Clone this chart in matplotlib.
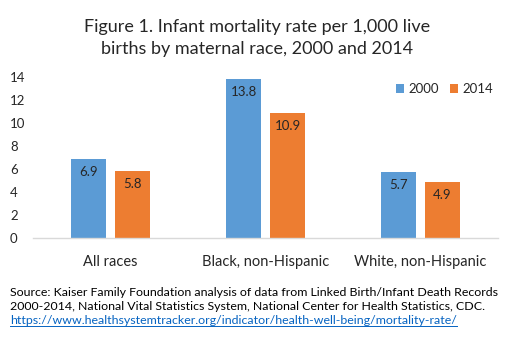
import matplotlib
matplotlib.use("Agg")
import matplotlib.pyplot as plt
import numpy as np

categories = ["All races", "Black, non-Hispanic", "White, non-Hispanic"]
years = ["2000", "2014"]
rate_2000 = [6.9, 13.8, 5.7]
rate_2014 = [5.8, 10.9, 4.9]
yticks = [0, 2, 4, 6, 8, 10, 12, 14]

title = "Figure 1. Infant mortality rate per 1,000 live\nbirths by maternal race, 2000 and 2014"
source_lines = [
    "Source: Kaiser Family Foundation analysis of data from Linked Birth/Infant Death Records",
    "2000-2014, National Vital Statistics System, National Center for Health Statistics, CDC.",
]
link = "https://www.healthsystemtracker.org/indicator/health-well-being/mortality-rate/"

blue = "#5B9BD5"
orange = "#ED7D31"
font = ["Lato", "DejaVu Sans"]
plt.rcParams["font.family"] = font

W, H = 514, 339
fig = plt.figure(figsize=(W / 100, H / 100), dpi=100)
fig.patch.set_facecolor("white")

# axes placed in pixel coordinates
left, right, top, bottom = 33, 498, 77, 238
ax = fig.add_axes([left / W, 1 - bottom / H, (right - left) / W, (bottom - top) / H])

x = np.arange(len(categories))
bw = 0.226
off = 0.142
b1 = ax.bar(x - off, rate_2000, bw, color=blue, label=years[0])
b2 = ax.bar(x + off, rate_2014, bw, color=orange, label=years[1])

for bars, vals in ((b1, rate_2000), (b2, rate_2014)):
    for bar, v in zip(bars, vals):
        ax.annotate(f"{v:.1f}", (bar.get_x() + bar.get_width() / 2, v),
                    xytext=(0, -13), textcoords="offset pixels",
                    ha="center", va="center", fontsize=9.5, color="#262626")

ax.set_xlim(-0.5, 2.5)
ax.set_ylim(0, 14)
ax.set_yticks(yticks)
ax.set_yticklabels([str(t) for t in yticks], fontsize=9.5, color="#262626")
for lab in ax.get_yticklabels():
    lab.set_horizontalalignment("left")
ax.tick_params(axis="y", length=0, pad=23 * 72 / 100)
ax.set_xticks(x)
ax.set_xticklabels(categories, fontsize=10.5, color="#262626")
ax.tick_params(axis="x", length=0, pad=12)

for s in ("top", "right", "left"):
    ax.spines[s].set_visible(False)
ax.spines["bottom"].set_color("#D9D9D9")
ax.spines["bottom"].set_linewidth(1)

ax.legend(loc="upper left", bbox_to_anchor=((396 - left) / (right - left), 1 - (83 - top) / (bottom - top)),
          frameon=False, fontsize=9.5, handlelength=0.6, handleheight=0.6,
          handletextpad=0.35, columnspacing=0.8, ncol=2, borderpad=0, borderaxespad=0,
          labelcolor="#262626")

fig.text(257 / W, 1 - 38 / H, title, ha="center", va="center", fontsize=13,
         color="#262626", linespacing=1.4)

ys = [293, 307]
for y, line in zip(ys, source_lines):
    fig.text(10 / W, 1 - y / H, line, ha="left", va="center", fontsize=8.9, color="#000000")
lt = fig.text(10 / W, 1 - 321 / H, link, ha="left", va="center", fontsize=8.9, color="#0563C1")

fig.canvas.draw()
bb = lt.get_window_extent()
uy = bb.y0 + 1
fig.add_artist(plt.Line2D([bb.x0 / W, bb.x1 / W], [uy / H, uy / H], color="#0563C1",
                          linewidth=0.7, transform=fig.transFigure))

fig.savefig("out.png", dpi=100)
